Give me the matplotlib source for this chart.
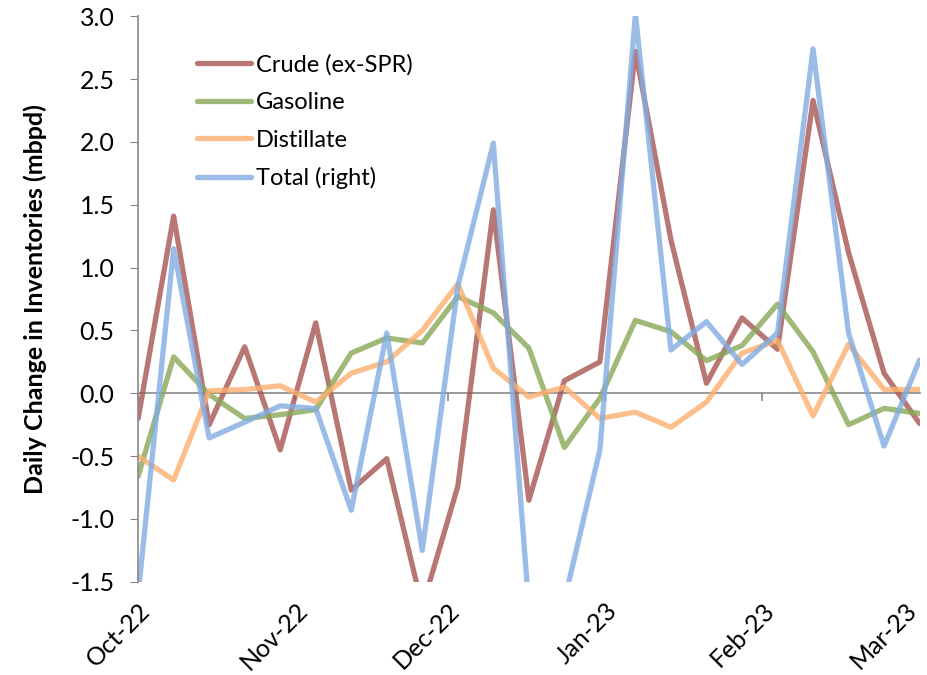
import numpy as np
import pandas as pd
import matplotlib
matplotlib.use("Agg")
import matplotlib.pyplot as plt
import matplotlib.dates as mdates

# weekly changes, mbpd
dates = pd.date_range("2022-10-01", periods=23, freq="7D")
crude = [-0.20, 1.41, -0.25, 0.37, -0.45, 0.56, -0.77, -0.52, -1.70, -0.74, 1.46, -0.85,
         0.10, 0.25, 2.72, 1.22, 0.08, 0.60, 0.35, 2.33, 1.12, 0.16, -0.24]
gasoline = [-0.66, 0.29, -0.01, -0.20, -0.17, -0.13, 0.32, 0.44, 0.40, 0.77, 0.64, 0.36,
            -0.43, -0.04, 0.58, 0.49, 0.26, 0.38, 0.71, 0.33, -0.25, -0.12, -0.16]
distillate = [-0.50, -0.69, 0.02, 0.03, 0.06, -0.07, 0.16, 0.25, 0.50, 0.87, 0.20, -0.03,
              0.05, -0.20, -0.15, -0.27, -0.07, 0.32, 0.42, -0.18, 0.39, 0.03, 0.03]
total = [-1.60, 1.15, -0.355, -0.23, -0.10, -0.12, -0.93, 0.48, -1.25, 0.85, 1.99, -1.70,
         -1.65, -0.45, 3.02, 0.345, 0.57, 0.23, 0.48, 2.74, 0.48, -0.42, 0.265]

names = ["Crude (ex-SPR)", "Gasoline", "Distillate", "Total (right)"]
colors = ["#A65552", "#88A756", "#FCB06F", "#81ACE2"]

plt.rcParams['font.family'] = ['Lato', 'DejaVu Sans']

fig = plt.figure(figsize=(9.27, 6.75), dpi=100)
ax = fig.add_axes([0.149, 0.138, 0.843, 0.838])

for vals, nm, c in zip([crude, gasoline, distillate, total], names, colors):
    ax.plot(dates, vals, color=c, lw=3.8, alpha=0.8, label=nm, solid_capstyle="round")

ax.set_ylim(-1.5, 3.0)
ax.set_xlim(dates[0], dates[-1])
ax.set_yticks(np.arange(-1.5, 3.01, 0.5))
ax.yaxis.set_major_formatter(matplotlib.ticker.FormatStrFormatter("%.1f"))
ax.tick_params(axis="y", labelsize=18, length=6, color="#888888", pad=11)

for s in ["top", "right", "bottom"]:
    ax.spines[s].set_visible(False)
ax.spines["left"].set_color("#888888")
ax.spines["left"].set_linewidth(1.2)

months = mdates.MonthLocator()
ax.xaxis.set_major_locator(months)
ax.xaxis.set_major_formatter(mdates.DateFormatter("%b-%y"))
ax.tick_params(axis="x", length=0, labelsize=18, pad=12)
for lab in ax.get_xticklabels():
    lab.set_rotation(45)
    lab.set_ha("right")
    lab.set_rotation_mode("anchor")

# zero line with month ticks
zax = ax.secondary_xaxis(1.5 / 4.5)
zax.xaxis.set_major_locator(mdates.MonthLocator())
zax.tick_params(axis="x", direction="out", length=6, color="#888888", width=1.2, labelbottom=False)
zax.set_xticklabels([])
zax.spines["bottom"].set_color("#888888")
zax.spines["bottom"].set_linewidth(1.2)

ax.set_ylabel("Daily Change in Inventories (mbpd)", fontsize=18, fontweight="bold", labelpad=17)

leg = ax.legend(loc="upper left", bbox_to_anchor=(0.075, 0.933), frameon=False, fontsize=17,
                handlelength=2.3, handletextpad=0.2, labelspacing=0.7,
                borderpad=0, borderaxespad=0)

fig.savefig("out.png", dpi=100)
